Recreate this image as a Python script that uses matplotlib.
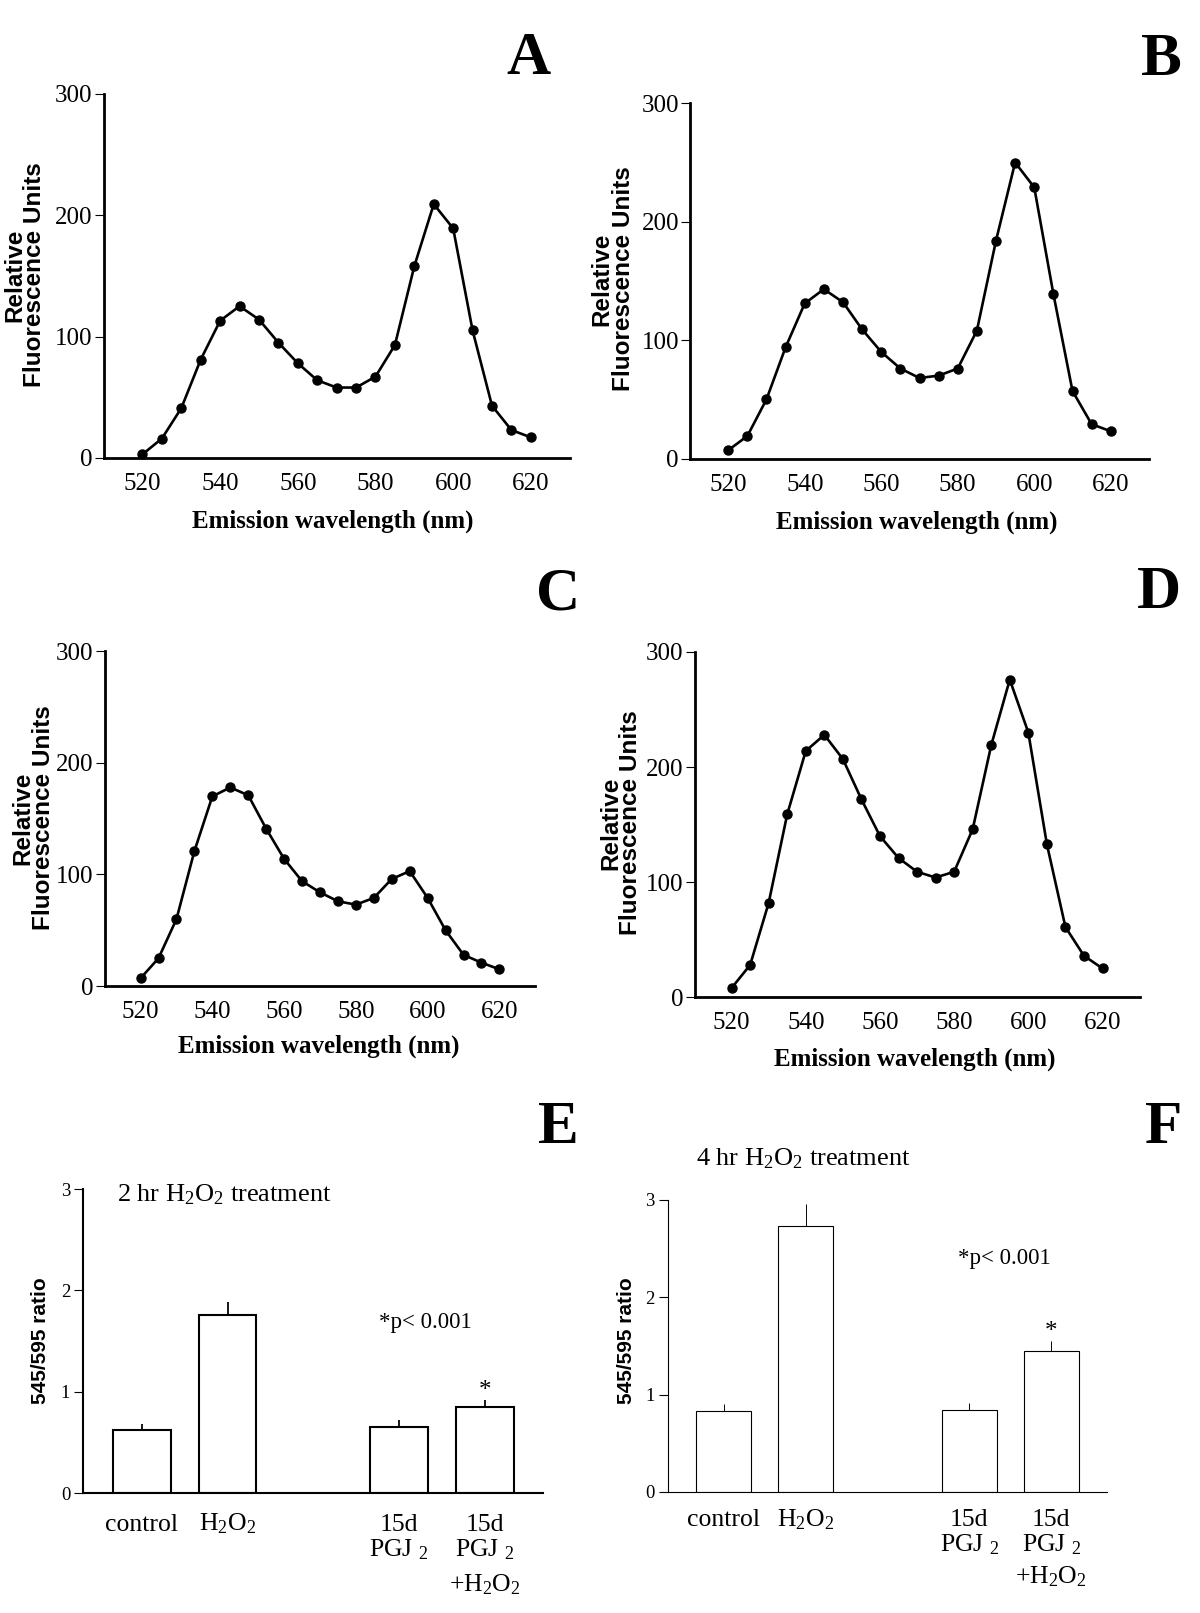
import matplotlib
matplotlib.use('Agg')
import matplotlib.pyplot as plt

plt.rcParams['font.family'] = 'Liberation Serif'

# emission spectra (relative fluorescence units)
wavelength = [520, 525, 530, 535, 540, 545, 550, 555, 560, 565, 570,
              575, 580, 585, 590, 595, 600, 605, 610, 615, 620]
spec_A = [3, 16, 41, 81, 113, 125, 114, 95, 78, 64, 58, 58, 67, 93, 158, 209, 189, 105, 43, 23, 17]
spec_B = [7, 19, 50, 94, 131, 143, 132, 109, 90, 76, 68, 70, 76, 108, 184, 250, 229, 139, 57, 29, 23]
spec_C = [7, 25, 60, 121, 170, 178, 171, 141, 114, 94, 84, 76, 73, 79, 96, 103, 79, 50, 28, 21, 15]
spec_D = [8, 28, 82, 159, 214, 228, 207, 172, 140, 121, 109, 104, 109, 146, 219, 276, 230, 133, 61, 36, 25]
xticks = [520, 540, 560, 580, 600, 620]
yticks = [0, 100, 200, 300]

# 545/595 ratio bars
groups = ['control', 'H2O2', '15d PGJ2', '15d PGJ2 + H2O2']
group_pos = [0, 1, 3, 4]
ratio_2h = [0.62, 1.76, 0.65, 0.85]
err_2h = [0.065, 0.125, 0.07, 0.07]
ratio_4h = [0.83, 2.73, 0.84, 1.45]
err_4h = [0.07, 0.23, 0.07, 0.10]
ratio_ticks = [0, 1, 2, 3]

H2O2 = r'$\mathregular{H_2O_2}$'
PGJ2 = r'PGJ $\mathregular{_2}$'
group_lines = [['control'], [H2O2], ['15d', PGJ2], ['15d', PGJ2, '+' + H2O2]]

W, H = 1200, 1613
fig = plt.figure(figsize=(W / 100, H / 100), dpi=100)


def box(l, r, t, b):
    return [l / W, 1 - b / H, (r - l) / W, (b - t) / H]


def ftext(x, y, s, **kw):
    fig.text(x / W, 1 - y / H, s, **kw)


def spectrum(rect, values, letter, lxy, ylx, yly, xlab):
    ax = fig.add_axes(rect)
    ax.plot(wavelength, values, color='black', lw=1.9, marker='o', ms=6.5, clip_on=False)
    ax.set_xlim(510, 630)
    ax.set_ylim(0, 300)
    ax.set_xticks(xticks)
    ax.set_yticks(yticks)
    for s in ['top', 'right']:
        ax.spines[s].set_visible(False)
    for s in ['left', 'bottom']:
        ax.spines[s].set_linewidth(2.0)
    ax.tick_params(axis='x', length=0, pad=11, labelsize=18)
    ax.tick_params(axis='y', length=6.5, width=0.8, pad=1.5, labelsize=18)
    ftext(lxy[0], lxy[1], letter, size=44, weight='bold', ha='right', va='baseline')
    ftext(ylx[0], yly, 'Relative', family='Liberation Sans', weight='bold', size=17.5,
          rotation=90, ha='center', va='center')
    ftext(ylx[1], yly, 'Fluorescence Units', family='Liberation Sans', weight='bold', size=17.5,
          rotation=90, ha='center', va='center')
    ftext(xlab[0], xlab[1], 'Emission wavelength (nm)', weight='bold', size=18,
          ha='center', va='center')
    return ax


def ratio_panel(rect, means, errs, lw, letter, lxy, ylab_xy, title, title_xy, p_xy, offs):
    ax = fig.add_axes(rect)
    ax.bar(group_pos, means, width=0.67, color='white', edgecolor='black', linewidth=lw)
    tops = [m + e for m, e in zip(means, errs)]
    ax.vlines(group_pos, means, tops, color='black', lw=lw * 0.85)
    ax.set_xlim(-0.68, 4.68)
    ax.set_ylim(0, 3)
    ax.set_xticks([])
    ax.set_yticks(ratio_ticks)
    for s in ['top', 'right']:
        ax.spines[s].set_visible(False)
    for s in ['left', 'bottom']:
        ax.spines[s].set_linewidth(lw)
    ax.tick_params(axis='y', length=6.5, width=0.8, pad=3, labelsize=13.5)
    # significance star on the last bar
    ax.annotate('*', xy=(group_pos[3], tops[3]), xytext=(0, 2), textcoords='offset points',
                ha='center', va='baseline', fontsize=18)
    for pos, lines in zip(group_pos, group_lines):
        for line, off in zip(lines, offs):
            ax.annotate(line, xy=(pos, 0), xycoords=('data', 'axes fraction'),
                        xytext=(0, -off), textcoords='offset points',
                        ha='center', va='baseline', fontsize=18.5)
    ftext(lxy[0], lxy[1], letter, size=44, weight='bold', ha='right', va='baseline')
    ftext(ylab_xy[0], ylab_xy[1], '545/595 ratio', family='Liberation Sans', weight='bold',
          size=15, rotation=90, ha='center', va='center')
    ftext(title_xy[0], title_xy[1], title, size=19, ha='left', va='baseline')
    ftext(p_xy[0], p_xy[1], '*p< 0.001', size=16.5, ha='left', va='baseline')
    return ax


spectrum(box(103.6, 569.7, 93.6, 458), spec_A, 'A', (551, 74), (15, 35), 275, (333, 521.6))
spectrum(box(690, 1149, 103.3, 458.5), spec_B, 'B', (1182, 74.6), (602, 623), 279, (917, 522))
spectrum(box(104.7, 535.3, 651.3, 986.1), spec_C, 'C', (580, 609), (23, 43.3), 818, (319, 1046))
spectrum(box(694.5, 1139.6, 652, 997.2), spec_D, 'D', (1181, 608), (610.7, 630.6), 823, (914.6, 1059.6))

ratio_panel(box(83.4, 543.4, 1189, 1493.3), ratio_2h, err_2h, 1.5, 'E', (578.6, 1143),
            (40, 1341), '2 hr ' + H2O2 + ' treatment', (116.7, 1201.3), (379, 1327.6),
            [27, 45.4, 70.8])
ratio_panel(box(668, 1107, 1199.8, 1492), ratio_4h, err_4h, 0.8, 'F', (1182, 1143),
            (626.8, 1341), '4 hr ' + H2O2 + ' treatment', (695.7, 1165.3), (957.8, 1263.7),
            [24.5, 43, 65.7])

fig.savefig('out.png', dpi=100, facecolor='white')
